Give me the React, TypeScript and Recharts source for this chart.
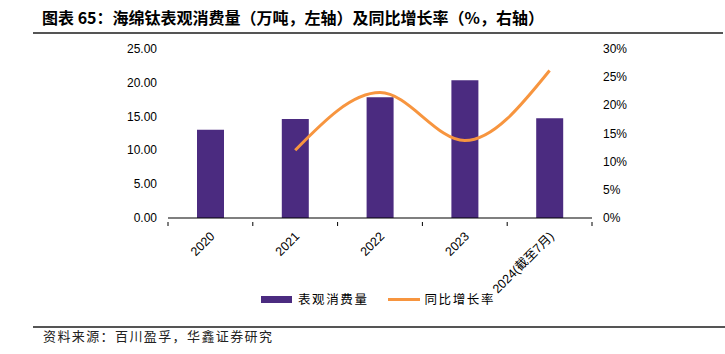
import React from 'react'
import { ComposedChart, Bar, Line, XAxis, YAxis } from 'recharts'

const years = ['2020', '2021', '2022', '2023', '2024(截至7月)']
const consumption = [13.0, 14.6, 17.8, 20.3, 14.7] // 万吨
const growth = [null, 12.0, 22.2, 13.7, 26.1] // %
const leftTicks = [0, 5, 10, 15, 20, 25]
const rightTicks = [0, 5, 10, 15, 20, 25, 30]

const data = years.map((y, i) => ({ year: y, consumption: consumption[i], growth: growth[i] }))

const BAR = '#4b2b80'
const ORANGE = '#f7953f'
const FONT = 'Arial, "Liberation Sans", "Noto Sans CJK SC", sans-serif'
const CJK = '"Noto Sans CJK SC", sans-serif'

function XTick(props: any) {
  const { x, y, payload, index, visibleTicksCount } = props
  const half = payload?.offset ?? 42.4
  const ax = x + 2
  const ay = y + 8
  return (
    <g>
      <line x1={x - half} x2={x - half} y1={y} y2={y - 4} stroke="#000" strokeWidth={1} />
      {index === visibleTicksCount - 1 && (
        <line x1={x + half} x2={x + half} y1={y} y2={y - 4} stroke="#000" strokeWidth={1} />
      )}
      <text
        x={ax} y={ay} textAnchor="end" dy="0.35em"
        transform={`rotate(-45, ${ax}, ${ay})`}
        fontSize={12.5} fill="#000" fontFamily={FONT}
      >
        {payload.value}
      </text>
    </g>
  )
}

export default function App() {
  return (
    <div style={{ position: 'fixed', left: 0, top: 0, width: 725, height: 354, background: '#fff', overflow: 'hidden' }}>
      <div style={{ position: 'absolute', left: 42, top: 7, fontFamily: CJK, fontWeight: 700, fontSize: 16, color: '#000', whiteSpace: 'nowrap', lineHeight: '20px' }}>
        图表 65：海绵钛表观消费量（万吨，左轴）及同比增长率（%，右轴）
      </div>
      <div style={{ position: 'absolute', left: 33, top: 32, width: 690, height: 1.5, background: '#555' }} />
      <ComposedChart
        width={725} height={354} data={data}
        margin={{ top: 48.5, right: 73, left: 108, bottom: 96 }}
      >
        <XAxis
          dataKey="year" xAxisId="x" interval={0} height={40}
          tick={<XTick />} tickLine={false}
          axisLine={{ stroke: '#000', strokeWidth: 1.2 }}
        />
        <YAxis
          yAxisId="left" orientation="left" width={60}
          domain={[0, 25]} ticks={leftTicks} interval={0}
          tickFormatter={(v: number) => v.toFixed(2)}
          axisLine={false} tickLine={false} tickMargin={5}
          tick={{ fontSize: 12, fill: '#000', fontFamily: FONT }}
        />
        <YAxis
          yAxisId="right" orientation="right" width={60}
          domain={[0, 30]} ticks={rightTicks} interval={0}
          tickFormatter={(v: number) => `${v}%`}
          axisLine={false} tickLine={false} tickMargin={5}
          tick={{ fontSize: 12, fill: '#000', fontFamily: FONT, textAnchor: 'start' }}
        />
        <Bar xAxisId="x" yAxisId="left" dataKey="consumption" name="表观消费量" fill={BAR} barSize={27} isAnimationActive={false} />
        <Line
          xAxisId="x" yAxisId="right" dataKey="growth" name="同比增长率"
          type="monotone" stroke={ORANGE} strokeWidth={3} dot={false}
          activeDot={false} isAnimationActive={false}
        />
      </ComposedChart>
      <div style={{ position: 'absolute', left: 261, top: 290, display: 'flex', alignItems: 'center', fontFamily: CJK, fontSize: 12.5, letterSpacing: 1.6, color: '#000', lineHeight: '18px' }}>
        <span style={{ display: 'inline-block', width: 31, height: 7, background: BAR, marginRight: 6 }} />
        <span style={{ marginRight: 19 }}>表观消费量</span>
        <span style={{ display: 'inline-block', width: 32, height: 3, background: ORANGE, marginRight: 5 }} />
        <span>同比增长率</span>
      </div>
      <div style={{ position: 'absolute', left: 33, top: 326, width: 692, height: 1.5, background: '#555' }} />
      <div style={{ position: 'absolute', left: 43, top: 327, fontFamily: CJK, fontSize: 13, letterSpacing: 1.4, color: '#222', whiteSpace: 'nowrap', lineHeight: '18px' }}>
        资料来源：百川盈孚，华鑫证券研究
      </div>
    </div>
  )
}
